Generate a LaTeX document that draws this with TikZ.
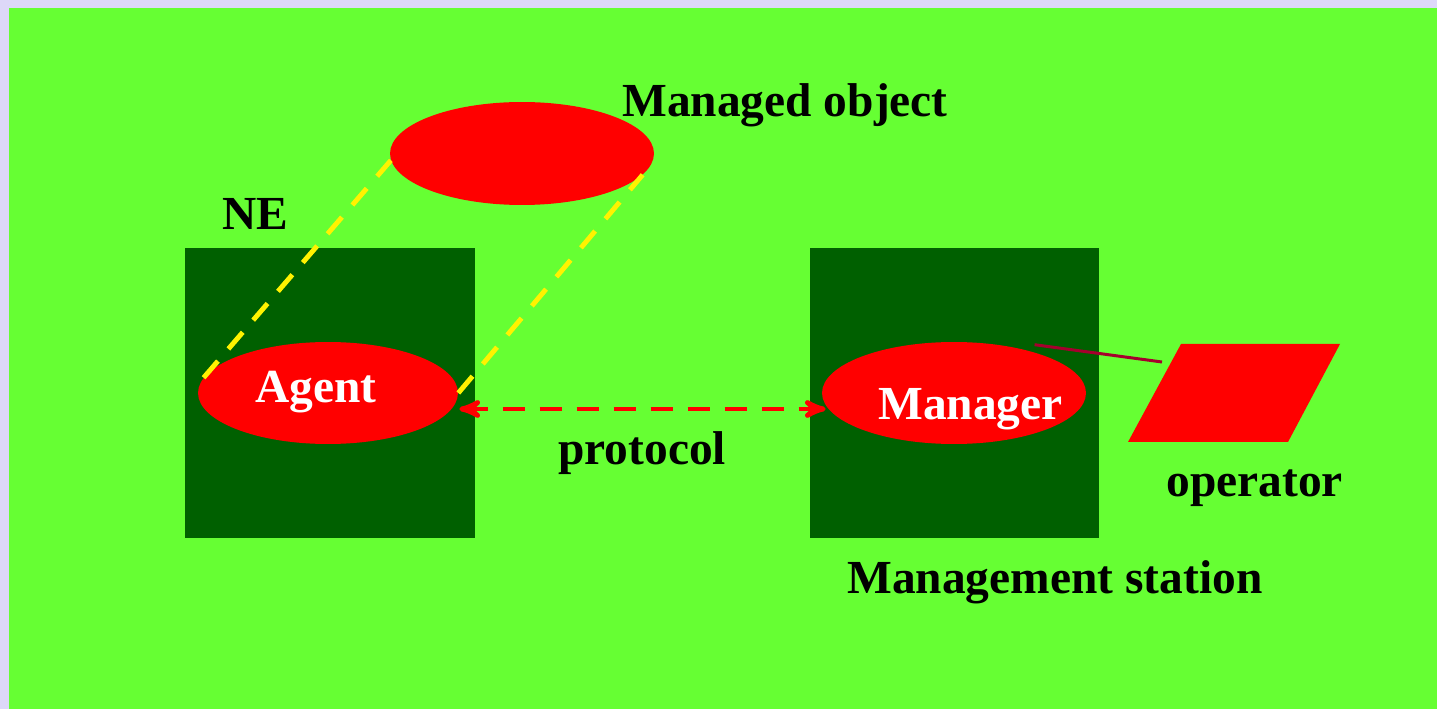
\documentclass[tikz,border=0pt]{standalone}
\usepackage{fontspec}
\setmainfont{Liberation Serif}
\usepackage{tikz}
\usetikzlibrary{arrows,backgrounds}
\usepgflibrary{shapes}
\definecolor{lawn}{RGB}{102,255,51}
\definecolor{lilac}{RGB}{221,216,248}
\definecolor{boxgreen}{RGB}{0,96,0}
\definecolor{wine}{RGB}{165,0,45}
\tikzset{
  blob/.style={ellipse,fill=red,inner sep=0pt},
  unit/.style={fill=boxgreen,minimum size=5.8cm,inner sep=0pt},
  lbl/.style={font=\fontsize{27}{32}\selectfont\bfseries,inner sep=0pt,anchor=base west},
  tie/.style={yellow,line width=2.8pt,dash pattern=on 0.44cm off 0.32cm},
  proto/.style={red,line width=2.8pt,dash pattern=on 0.44cm off 0.3cm,<->,>=stealth'}
}

\begin{document}
\begin{tikzpicture}[x=0.02cm,y=-0.02cm] % NE and Management station
       \fill[lilac](0,0) rectangle (1437,709);
       \fill[lawn](9,8) rectangle (1437,709);
       \node[unit] (ne) at (330,393) {};
       \node[unit] (ms) at (954.5,393) {};
       \node[blob,minimum width=5.28cm,minimum height=2.06cm] (mo) at (522,153.5) {};
       \node[blob,minimum width=5.2cm,minimum height=2.04cm] (agent) at (328,393) {};
       \node[blob,minimum width=5.28cm,minimum height=2.04cm] (manager) at (954,393) {};
       \draw[tie](agent.173)--(mo.183);
       \draw[tie](agent.east)--(mo.-10);
       \draw[proto]([xshift=0.02cm,yshift=-0.32cm]agent.east)--([xshift=0.08cm,yshift=-0.32cm]manager.west);
       \fill[red](1128,442)--(1181,344)--(1340,344)--(1288,442)--cycle;
       \coordinate (op) at (1162,362);
       \draw[wine,line width=1.7pt]([xshift=-0.26cm,yshift=0.24cm]manager.north east)--(op);
       \node[lbl] (molbl) at (622,117) {Managed object};
       \node[lbl] (nelbl) at (222,230) {NE};
       \node[lbl,white] (aglbl) at (255,403) {Agent};
       \node[lbl,white] (mglbl) at (878,419) {Manager};
       \node[lbl] (prlbl) at (558,464) {protocol};
       \node[lbl] (oplbl) at (1166,497) {operator};
       \node[lbl] (mslbl) at (847,593) {Management station};
\end{tikzpicture}
\end{document}
